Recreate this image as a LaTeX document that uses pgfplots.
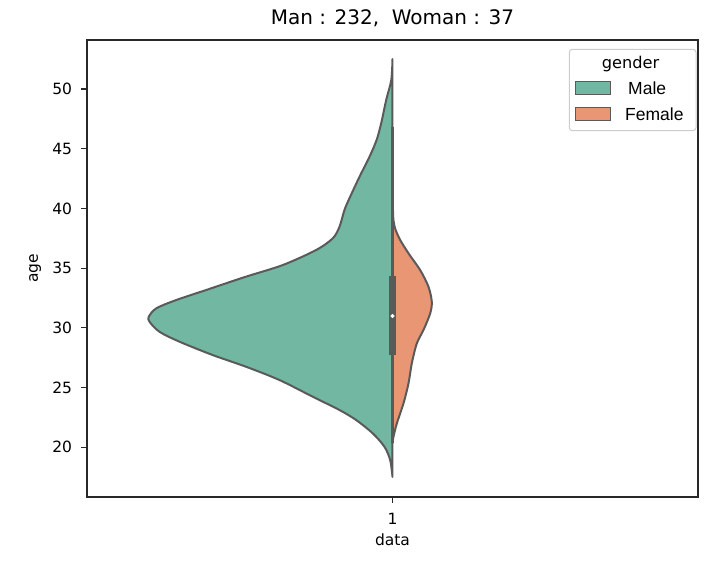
\documentclass[border=0pt]{standalone}
\usepackage{pgfplots}
\pgfplotsset{compat=1.18}
\usepackage{fontspec}
\setmainfont{DejaVu Sans}
\newfontfamily\arial{Liberation Sans}
\definecolor{male}{RGB}{113,183,161}
\definecolor{female}{RGB}{233,150,117}
\definecolor{edge}{RGB}{90,90,90}
\definecolor{spine}{RGB}{40,40,40}

\begin{document}
\begin{tikzpicture}
\useasboundingbox (0pt,0pt) rectangle (723pt,564pt);
\begin{axis}[
  at={(87pt,67pt)}, anchor=south west,
  width=611pt, height=457pt, scale only axis,
  xmin=-0.5, xmax=0.5, ymin=15.84, ymax=54.1,
  xtick={0}, xticklabels={1},
  ytick={20,25,...,50},
  xtick pos=lower, ytick pos=left,
  tick align=outside, major tick length=6pt,
  every tick/.style={spine, line width=1.1pt},
  axis line style={spine, line width=1.1pt},
  font=\fontsize{15.5}{18}\selectfont,
  /pgf/number format/assume math mode=true,
  yticklabel style={anchor=east, inner sep=0pt, xshift=-8.7pt},
  xticklabel style={anchor=base, inner sep=0pt, yshift=-22pt},
  title={Man : 232,\ \ Woman : 37},
  title style={at={(axis description cs:0.5,1)}, anchor=base, yshift=9pt,
    font=\fontsize{20}{24}\selectfont},
  xlabel={data},
  xlabel style={at={(axis description cs:0.5,0)}, anchor=base, yshift=-48.7pt},
  ylabel={age},
  ylabel style={at={(axis description cs:-0.0805,0.5)}, anchor=base},
]
% male half (left)
\addplot[fill=male, draw=edge, line width=2pt, line join=round, smooth, tension=0.5]
coordinates {
(0,52.49)(-0.0020,50.75)(-0.0103,49.08)(-0.0185,47.13)(-0.0260,45.73)(-0.0376,44.33)
(-0.0540,42.65)(-0.0700,40.90)(-0.0786,39.87)(-0.0867,38.47)(-0.0977,37.50)(-0.1249,36.52)
(-0.1795,35.26)(-0.2420,34.25)(-0.3049,33.17)(-0.3540,32.33)(-0.3867,31.63)
(-0.3989,30.93)(-0.3977,30.51)(-0.3813,29.67)(-0.3486,28.84)(-0.2941,27.72)(-0.2395,26.74)
(-0.1849,25.63)(-0.1304,24.23)(-0.0867,23.12)(-0.0594,22.28)(-0.0322,21.16)(-0.0131,20.04)
(-0.0038,18.93)(0,17.53)
} -- cycle;
% female half (right)
\addplot[fill=female, draw=edge, line width=2pt, line join=round, smooth, tension=0.5]
coordinates {
(0,46.8)(0.0006,42.0)(0.0016,39.0)(0.0098,37.63)(0.0262,36.24)(0.0453,34.84)(0.0589,33.44)
(0.0643,32.19)(0.0617,31.21)(0.0507,29.82)(0.0398,28.70)(0.0316,27.03)(0.0262,25.35)
(0.0180,23.68)(0.0071,22.00)(0.0016,20.88)(0,20.35)
} -- cycle;
% whisker
\addplot[draw=edge, line width=2.4pt] coordinates {(0,20.35)(0,46.8)};
% box
\addplot[fill=edge, draw=none] coordinates {
(-0.006,27.72)(0.006,27.72)(0.006,34.36)(-0.006,34.36)} -- cycle;
% median
\addplot[only marks, mark=*, mark size=1.8pt, mark options={fill=white, draw=white}]
coordinates {(0,30.99)};
\end{axis}
% legend
\draw[black!20, line width=1pt, fill=white, rounded corners=3pt]
  (569.3pt,433.3pt) rectangle (696pt,514.7pt);
\node[anchor=base, inner sep=0pt, font=\fontsize{16.2}{19}\selectfont]
  at (630.5pt,495.7pt) {gender};
\draw[fill=male, draw=edge, line width=1pt] (575pt,469.7pt) rectangle (610pt,482.3pt);
\draw[fill=female, draw=edge, line width=1pt] (575pt,443pt) rectangle (610pt,456pt);
\node[anchor=base west, inner sep=0pt, font=\arial\fontsize{17.5}{20}\selectfont]
  at (628pt,469.7pt) {Male};
\node[anchor=base west, inner sep=0pt, font=\arial\fontsize{17.5}{20}\selectfont]
  at (625pt,443pt) {Female};
\end{tikzpicture}
\end{document}
